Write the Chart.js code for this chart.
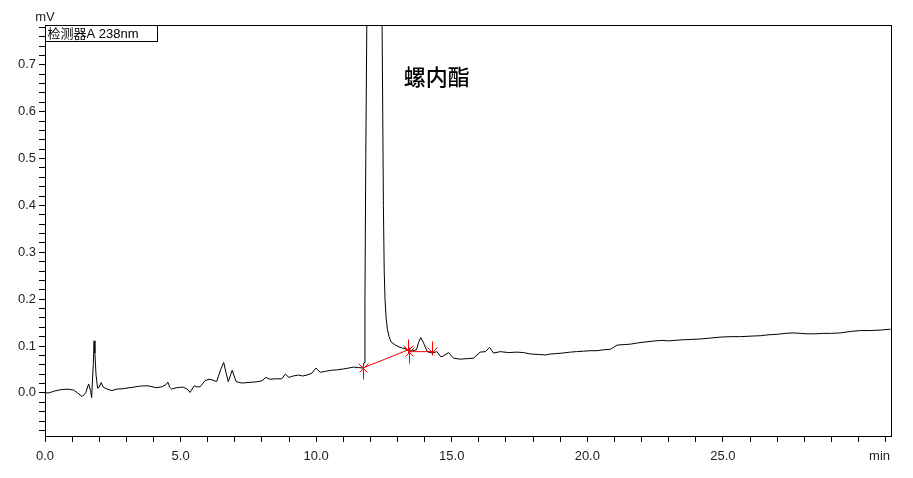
<!DOCTYPE html>
<html>
  <head>
    <meta charset="utf-8">
    <script src="https://cdn.jsdelivr.net/npm/chart.js@4"></script>
    <style>
      html, body { margin: 0; padding: 0; background: #fff; }
      #wrap { width: 913px; height: 478px; }
    </style>
  </head>

  <body>
    <div id="wrap">
      <canvas id="canvas"></canvas>
    </div>
    <script>
      // retention time (min) and detector signal (mV)
      const times = [
        0.00, 0.15, 0.35, 0.60, 0.85, 1.05, 1.20, 1.37, 1.50, 1.61, 1.68, 1.72, 1.78, 1.81, 1.84, 1.88,
        1.94, 2.00, 2.07, 2.15, 2.30, 2.47, 2.65, 2.90, 3.10, 3.25, 3.45, 3.60, 3.80, 3.95, 4.12, 4.30,
        4.45, 4.53, 4.60, 4.67, 4.85, 5.00, 5.10, 5.25, 5.35, 5.50, 5.60, 5.72, 5.90, 6.05, 6.15, 6.33,
        6.48, 6.59, 6.68, 6.76, 6.90, 7.05, 7.26, 7.45, 7.69, 7.85, 8.00, 8.15, 8.30, 8.49, 8.73, 8.86,
        9.00, 9.15, 9.35, 9.50, 9.66, 9.84, 9.99, 10.15, 10.35, 10.52, 10.75, 11.00, 11.20, 11.38, 11.56,
        11.72, 11.77, 11.80, 11.83, 11.87, 11.95, 12.15, 12.35, 12.43, 12.48, 12.51, 12.54, 12.58, 12.63,
        12.69, 12.76, 12.92, 13.10, 13.22, 13.40, 13.55, 13.70, 13.78, 13.86, 13.95, 14.10, 14.27, 14.45,
        14.60, 14.70, 14.88, 15.07, 15.31, 15.55, 15.80, 16.05, 16.24, 16.40, 16.54, 16.79, 17.10, 17.40,
        17.65, 17.90, 18.20, 18.45, 18.65, 18.88, 19.10, 19.37, 19.60, 19.86, 20.10, 20.36, 20.60, 20.85,
        21.10, 21.35, 21.59, 21.90, 22.20, 22.50, 22.75, 23.00, 23.43, 23.80, 24.17, 24.55, 24.90, 25.30,
        25.65, 26.00, 26.38, 26.70, 27.00, 27.30, 27.61, 27.85, 28.10, 28.40, 28.72, 29.00, 29.33, 29.70,
        30.07, 30.45, 30.81, 31.18
      ];
      const signal = [
        0.000, 0.000, 0.004, 0.007, 0.008, 0.006, 0.000, -0.008, 0.000, 0.019, 0.005, -0.010, 0.060, 0.111, 0.085, 0.040,
        0.010, 0.012, 0.022, 0.012, 0.008, 0.005, 0.008, 0.009, 0.011, 0.012, 0.014, 0.015, 0.015, 0.013, 0.011, 0.013,
        0.017, 0.023, 0.012, 0.008, 0.011, 0.012, 0.012, 0.008, 0.001, 0.015, 0.013, 0.013, 0.026, 0.029, 0.028, 0.024,
        0.050, 0.065, 0.042, 0.024, 0.048, 0.024, 0.021, 0.022, 0.023, 0.024, 0.026, 0.033, 0.029, 0.030, 0.030, 0.040,
        0.033, 0.036, 0.038, 0.036, 0.038, 0.042, 0.053, 0.044, 0.046, 0.048, 0.049, 0.051, 0.053, 0.055, 0.054,
        0.053, 0.065, 0.20, 0.50, 0.80, 1.50, 2.50, 1.50, 0.80, 0.40, 0.26, 0.20, 0.160, 0.135,
        0.120, 0.109, 0.102, 0.097, 0.095, 0.092, 0.090, 0.092, 0.108, 0.118, 0.108, 0.088, 0.085, 0.088,
        0.077, 0.079, 0.086, 0.074, 0.072, 0.073, 0.074, 0.087, 0.088, 0.097, 0.085, 0.088, 0.086, 0.087,
        0.086, 0.083, 0.082, 0.081, 0.083, 0.084, 0.085, 0.087, 0.088, 0.089, 0.090, 0.090, 0.092, 0.093,
        0.102, 0.103, 0.104, 0.107, 0.109, 0.111, 0.112, 0.111, 0.113, 0.114, 0.115, 0.117, 0.119, 0.120,
        0.120, 0.121, 0.122, 0.124, 0.125, 0.127, 0.128, 0.127, 0.126, 0.126, 0.127, 0.127, 0.128, 0.131,
        0.133, 0.133, 0.134, 0.136
      ];

      // integration baseline drawn under the main peak
      const baseTimes1 = [11.72, 13.40];
      const baseValues1 = [0.053, 0.092];
      const baseTimes2 = [13.43, 14.27];
      const baseValues2 = [0.088, 0.088];

      const peakName = '螺内酯';
      const peakLabelAt = [14.45, 0.674];
      const detectorLabel = '检测器A 238nm';

      const xTicks = Array.from({ length: 32 }, (_, i) => i);            // 0..31 min
      const xLabelled = [0, 5, 10, 15, 20, 25];
      const yTicks = Array.from({ length: 44 }, (_, i) => (i * 2 - 8) / 100); // -0.08..0.78

      const toXY = (ts, vs) => ts.map((t, i) => ({ x: t, y: vs[i] }));
      const FONT = "'Liberation Sans', Arial, 'Noto Sans CJK SC', sans-serif";

      const decor = {
        id: 'decor',
        afterDatasetsDraw(chart) {
          const { ctx, chartArea: a, scales } = chart;
          const xs = scales.x, ys = scales.y;
          ctx.save();
          // frame
          ctx.strokeStyle = '#000';
          ctx.lineWidth = 1;
          ctx.strokeRect(Math.round(a.left) + 0.5, Math.round(a.top) + 0.5,
            Math.round(a.right - a.left), Math.round(a.bottom - a.top));

          // baseline markers
          ctx.strokeStyle = '#ff0000';
          const up = (x, y) => {
            ctx.beginPath();
            ctx.moveTo(x, y - 5); ctx.lineTo(x, y + 11);
            ctx.moveTo(x - 5, y - 5); ctx.lineTo(x, y);
            ctx.moveTo(x + 5, y - 5); ctx.lineTo(x, y);
            ctx.moveTo(x - 4, y + 4); ctx.lineTo(x, y);
            ctx.moveTo(x + 4, y + 4); ctx.lineTo(x, y);
            ctx.stroke();
          };
          const down = (x, y) => {
            ctx.beginPath();
            ctx.moveTo(x, y - 11); ctx.lineTo(x, y + 3);
            ctx.moveTo(x - 5, y - 5); ctx.lineTo(x, y);
            ctx.moveTo(x + 5, y - 5); ctx.lineTo(x, y);
            ctx.stroke();
          };
          const px = (t) => Math.round(xs.getPixelForValue(t)) + 0.5;
          const py = (v) => Math.round(ys.getPixelForValue(v)) + 0.5;
          up(px(baseTimes1[0]), py(baseValues1[0]));
          down(px(baseTimes1[1]), py(baseValues1[1]));
          up(px(baseTimes2[0]), py(baseValues2[0]));
          down(px(baseTimes2[1]), py(baseValues2[1]));

          // detector box
          ctx.font = '13px ' + FONT;
          ctx.textBaseline = 'middle';
          ctx.textAlign = 'left';
          const bx = Math.round(a.left) + 0.5, by = Math.round(a.top) + 0.5;
          ctx.fillStyle = '#fff';
          ctx.fillRect(bx, by, 112, 16);
          ctx.strokeStyle = '#000';
          ctx.strokeRect(bx, by, 112, 16);
          ctx.fillStyle = '#000';
          ctx.fillText(detectorLabel, bx + 2, by + 8.5);

          // peak name
          ctx.font = "500 22px 'Noto Sans CJK SC', sans-serif";
          ctx.textAlign = 'center';
          ctx.fillText(peakName, xs.getPixelForValue(peakLabelAt[0]), ys.getPixelForValue(peakLabelAt[1]));

          // axis units
          ctx.font = '13px ' + FONT;
          ctx.fillStyle = '#222';
          ctx.textAlign = 'center';
          ctx.fillText('mV', a.left, 17);
          ctx.textAlign = 'right';
          ctx.fillText('min', a.right - 1, a.bottom + 20);
          ctx.restore();
        },
      };

      new Chart(document.getElementById('canvas').getContext('2d'), {
        type: 'line',
        data: {
          datasets: [
            {
              data: toXY(times, signal),
              borderColor: '#000',
              borderWidth: 1,
              pointRadius: 0,
              tension: 0,
              clip: 0,
            },
            {
              data: toXY(baseTimes1, baseValues1),
              borderColor: '#ff0000',
              borderWidth: 1,
              pointRadius: 0,
            },
            {
              data: toXY(baseTimes2, baseValues2),
              borderColor: '#ff0000',
              borderWidth: 1,
              pointRadius: 0,
            },
          ],
        },
        plugins: [decor],
        options: {
          responsive: true,
          maintainAspectRatio: false,
          animation: false,
          layout: { padding: { top: 25, right: 22, left: 0, bottom: 0 } },
          plugins: {
            legend: { display: false },
            tooltip: { enabled: false },
          },
          scales: {
            x: {
              type: 'linear',
              min: 0,
              max: 31.2,
              afterBuildTicks: (s) => { s.ticks = xTicks.map((v) => ({ value: v })); },
              afterFit: (s) => { s.height = 42; },
              grid: { drawOnChartArea: false, tickLength: 6, color: '#000' },
              border: { color: '#000' },
              ticks: {
                autoSkip: false,
                maxRotation: 0,
                padding: 7,
                color: '#222',
                font: { family: FONT, size: 13 },
                callback: (v) => (xLabelled.includes(v) ? v.toFixed(1) : ''),
              },
            },
            y: {
              min: -0.092,
              max: 0.785,
              afterBuildTicks: (s) => { s.ticks = yTicks.map((v) => ({ value: v })); },
              afterFit: (s) => { s.width = 45; },
              grid: { drawOnChartArea: false, tickLength: 6, color: '#000' },
              border: { color: '#000' },
              ticks: {
                autoSkip: false,
                padding: 3,
                color: '#222',
                font: { family: FONT, size: 13 },
                callback: (v) => (Math.abs(v * 10 - Math.round(v * 10)) < 1e-6 ? v.toFixed(1) : ''),
              },
            },
          },
        },
      });
    </script>
  </body>
</html>
